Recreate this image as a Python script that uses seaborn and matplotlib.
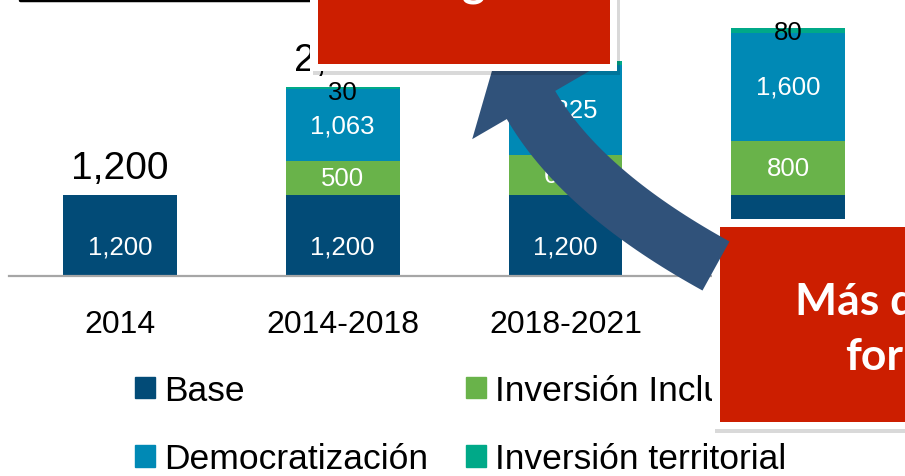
import numpy as np
import matplotlib
matplotlib.use('Agg')
import matplotlib.pyplot as plt
import seaborn as sns
from matplotlib.patches import Patch, Rectangle, Polygon
from matplotlib.lines import Line2D

# data
periods = ['2014', '2014-2018', '2018-2021', '2021-2024']
base = [1200, 1200, 1200, 1200]
incluyente = [0, 500, 600, 800]
democratizacion = [0, 1063, 1325, 1600]
territorial = [0, 30, 60, 80]
# totals are only printed above the first three bars
show_total = [True, True, True, False]

series_names = ['Base', 'Inversión Incluyente', 'Democratización', 'Inversión territorial']
colors = ['#024b77', '#69b34a', '#0089b5', '#00a988']

sns.set_theme(style='white')
plt.rcParams['font.family'] = ['Liberation Sans', 'DejaVu Sans']

W, H = 905, 477
fig = plt.figure(figsize=(W / 100, H / 100), dpi=100)
fig.patch.set_facecolor('white')

# pixel helper (top-down pixel coords -> figure fraction)
def fx(x):
    return x / W

def fy(y):
    return 1 - y / H

px_per_unit = 0.0675
ax = fig.add_axes([fx(8.7), 200 / H, (899.5 - 8.7) / W, 277 / H])

stack = [base, incluyente, democratizacion, territorial]
cum = np.cumsum(np.array(stack), axis=0)

# draw cumulative bars from top layer down
for k in range(len(stack) - 1, -1, -1):
    sns.barplot(x=periods, y=cum[k], color=colors[k], saturation=1,
                width=0.51, linewidth=0, ax=ax)

ax.set_xlim(-0.5, 3.5)
ax.set_ylim(0, 277 / px_per_unit)

# segment labels
for i in range(len(periods)):
    # base label sits a bit low in the bar
    ax.text(i, base[i] * 0.36, f'{base[i]:,}', color='white', ha='center',
            va='center', fontsize=18.5)
    for k in (1, 2):
        v = stack[k][i]
        if v == 0:
            continue
        mid = cum[k][i] - v / 2
        ax.text(i, mid, f'{v:,}', color='white', ha='center', va='center',
                fontsize=18.5)
    if territorial[i] > 0:
        ax.text(i, cum[3][i] - 60, f'{territorial[i]:,}', color='black',
                ha='center', va='center', fontsize=18.5)
    if show_total[i]:
        ax.annotate(f'{cum[3][i]:,}', xy=(i, cum[3][i]), xytext=(0, 12.5),
                    textcoords='offset points', ha='center', va='baseline',
                    fontsize=28, color='black', annotation_clip=False)

for s in ['top', 'left', 'right']:
    ax.spines[s].set_visible(False)
ax.spines['bottom'].set_color('#a6a6a6')
ax.spines['bottom'].set_linewidth(1.6)
ax.set_yticks([])
ax.set_xlabel('')
ax.set_ylabel('')
ax.tick_params(axis='x', length=0, pad=23.5, labelsize=23, colors='black')

# legend
handles = [Patch(color=colors[0], label=series_names[0]),
           Patch(color=colors[2], label=series_names[2]),
           Patch(color=colors[1], label=series_names[1]),
           Patch(color=colors[3], label=series_names[3])]
leg = fig.legend(handles=handles, ncol=2, loc='upper left',
                 bbox_to_anchor=(fx(135), fy(375)), frameon=False,
                 fontsize=25.5, handlelength=0.56, handleheight=0.56,
                 handletextpad=0.25, columnspacing=1.09, labelspacing=1.0,
                 borderpad=0, borderaxespad=0, labelcolor='black')
leg.set_zorder(5)

# title underline fragment at the top
fig.add_artist(Line2D([fx(20), fx(312)], [fy(1), fy(1)], color='black',
                      lw=2.5, transform=fig.transFigure, zorder=4))

red = '#cc1e00'

def red_box(x0, y0, x1, y1, z):
    fig.add_artist(Rectangle((fx(x0 + 3), fy(y1 + 4)), (x1 - x0) / W,
                             (y1 - y0) / H, transform=fig.transFigure,
                             color='black', alpha=0.15, lw=0, zorder=z))
    fig.add_artist(Rectangle((fx(x0), fy(y1)), (x1 - x0) / W, (y1 - y0) / H,
                             transform=fig.transFigure, color='white', lw=0,
                             zorder=z + 0.1))
    fig.add_artist(Rectangle((fx(x0 + 7.5), fy(y1 - 7.5)), (x1 - x0 - 15) / W,
                             (y1 - y0 - 15) / H, transform=fig.transFigure,
                             color=red, lw=0, zorder=z + 0.2))

# lower-right box (under the arrow)
red_box(712, 220, 925, 430, 6)
fig.text(fx(795), fy(315), 'Más de', color='white', fontsize=32,
         fontweight='bold', family=['Lato', 'DejaVu Sans'], ha='left',
         va='baseline', zorder=6.5)
fig.text(fx(845), fy(370), 'formas', color='white', fontsize=32,
         fontweight='bold', family=['Lato', 'DejaVu Sans'], ha='left',
         va='baseline', zorder=6.5)

# curved arrow
P0 = np.array([716.0, 267.0])
P1 = np.array([581.5, 192.9])
P2 = np.array([531.0, 106.0])
t = np.linspace(0, 1, 40)[:, None]
curve = (1 - t) ** 2 * P0 + 2 * (1 - t) * t * P1 + t ** 2 * P2
tang = 2 * (1 - t) * (P1 - P0) + 2 * t * (P2 - P1)
tang = tang / np.linalg.norm(tang, axis=1)[:, None]
norm = np.column_stack([-tang[:, 1], tang[:, 0]])
hw = 28
left = curve + hw * norm
right = curve - hw * norm
d2 = tang[-1]
n2 = norm[-1]
tip = P2 + 65 * d2
head = [P2 + 68 * n2, tip, P2 - 68 * n2]
pts = np.vstack([left, head, right[::-1]])
pts_fig = np.column_stack([pts[:, 0] / W, 1 - pts[:, 1] / H])
fig.add_artist(Polygon(pts_fig, closed=True, transform=fig.transFigure,
                       facecolor='#30527a', edgecolor='none', zorder=7))

# upper box (over the arrow head)
red_box(310, -30, 617, 72, 8)
fig.text(fx(462), fy(-4), 'gasto', color='white', fontsize=32,
         fontweight='bold', family=['Lato', 'DejaVu Sans'], ha='left',
         va='baseline', zorder=8.5)

fig.savefig('out.png', dpi=100)
